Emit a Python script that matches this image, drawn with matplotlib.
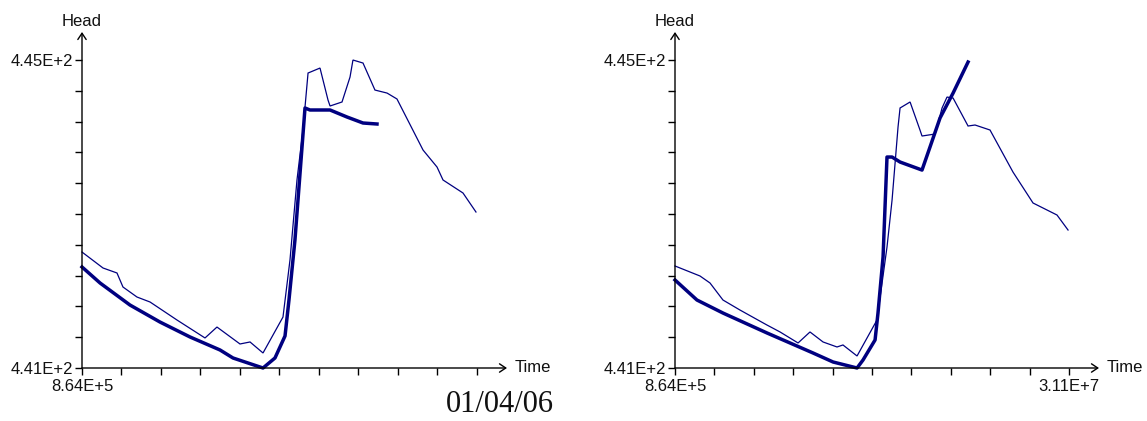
import matplotlib
matplotlib.use("Agg")
import matplotlib.pyplot as plt
from matplotlib.patches import Rectangle
from matplotlib.ticker import FixedLocator, FuncFormatter

SECONDS_PER_DAY = 86400
LINE_COLOR = "#000080"
FONT = ["Liberation Sans", "DejaVu Sans"]

# ---- Left model: observed (thin) and simulated (thick) head, time in days ----
left_obs_days = [10.0, 28.6, 41.0, 46.3, 58.7, 70.3, 94.2, 119.0, 129.6, 150.0,
                 158.9, 170.4, 188.1, 194.3, 200.5, 205.8, 210.3, 220.9, 228.0,
                 229.8, 240.4, 247.5, 250.1, 259.0, 269.6, 280.3, 289.1, 312.2,
                 324.6, 329.9, 347.6, 359.1]
left_obs_head = [442.506, 442.299, 442.234, 442.052, 441.922, 441.857, 441.623,
                 441.390, 441.532, 441.312, 441.338, 441.195, 441.662, 442.403,
                 443.442, 444.091, 444.831, 444.896, 444.480, 444.403, 444.455,
                 444.779, 445.000, 444.961, 444.610, 444.571, 444.494, 443.831,
                 443.610, 443.442, 443.273, 443.026]

left_sim_days = [10.0, 26.0, 52.5, 79.1, 105.7, 132.3, 143.8, 170.4, 181.0,
                 189.9, 193.4, 198.7, 207.6, 212.0, 229.8, 244.8, 259.0, 271.4]
left_sim_head = [442.312, 442.104, 441.818, 441.597, 441.403, 441.234, 441.130,
                 441.000, 441.130, 441.416, 441.883, 442.662, 444.377, 444.351,
                 444.351, 444.260, 444.182, 444.169]

# ---- Right model ----
right_obs_days = [10.0, 32.2, 41.1, 52.6, 67.7, 91.7, 103.3, 119.3, 129.9, 141.5,
                  153.9, 159.2, 171.7, 189.4, 198.3, 202.8, 208.1, 209.9, 218.8,
                  227.6, 229.4, 241.0, 247.2, 251.6, 257.0, 270.3, 276.5, 289.8,
                  310.2, 328.0, 349.3, 359.1]
right_obs_head = [442.325, 442.195, 442.104, 441.883, 441.753, 441.558, 441.468,
                  441.325, 441.468, 441.338, 441.273, 441.299, 441.156, 441.623,
                  442.571, 443.182, 444.130, 444.377, 444.455, 444.091, 444.013,
                  444.039, 444.377, 444.519, 444.506, 444.143, 444.156, 444.091,
                  443.545, 443.143, 442.987, 442.792]

right_sim_days = [10.0, 29.5, 52.6, 91.7, 132.6, 150.4, 171.7, 177.0, 187.7,
                  190.3, 194.8, 198.3, 202.8, 209.9, 229.4, 236.5, 245.4, 257.0,
                  270.3]
right_sim_head = [442.143, 441.883, 441.714, 441.455, 441.195, 441.078, 441.000,
                  441.104, 441.364, 441.714, 442.442, 443.740, 443.740, 443.675,
                  443.571, 443.870, 444.247, 444.571, 444.974]

# ---- Axis ticks and labels ----
x_tick_days = [10, 45, 80, 115, 150, 185, 220, 255, 290, 325, 360]
y_ticks = [441.0, 441.4, 441.8, 442.2, 442.6, 443.0, 443.4, 443.8, 444.2, 444.6, 445.0]
x_first_label = "8.64E+5"
x_last_label = "3.11E+7"
y_first_label = "4.41E+2"
y_last_label = "4.45E+2"
x_title = "Time"
y_title = "Head"
date_text = "01/04/06"

W, H = 1147, 421
fig = plt.figure(figsize=(W / 100, H / 100), dpi=100)
fig.patch.set_facecolor("white")

x_max_days = 386.6
y_max = 445.364


def to_seconds(days):
    return [d * SECONDS_PER_DAY for d in days]


def make_panel(left_px, right_px, obs_d, obs_h, sim_d, sim_h, last_x_label):
    bottom_px, top_px = 368, 32
    ax = fig.add_axes([left_px / W, (H - bottom_px) / H,
                       (right_px - left_px) / W, (bottom_px - top_px) / H])
    ax.set_xlim(10 * SECONDS_PER_DAY, x_max_days * SECONDS_PER_DAY)
    ax.set_ylim(441.0, y_max)
    for s in ax.spines.values():
        s.set_visible(False)
    ax.patch.set_alpha(0)

    ax.plot(to_seconds(obs_d), obs_h, color=LINE_COLOR, lw=0.9,
            solid_joinstyle="miter", clip_on=False)
    ax.plot(to_seconds(sim_d), sim_h, color=LINE_COLOR, lw=2.5,
            solid_joinstyle="round", clip_on=False)

    # axis lines with open arrow heads
    arrow = dict(arrowstyle="->,head_length=0.45,head_width=0.3", lw=1.0,
                 color="black", shrinkA=0, shrinkB=0)
    ax.annotate("", xy=(1, 0), xytext=(0, 0), xycoords="axes fraction",
                arrowprops=arrow, annotation_clip=False)
    ax.annotate("", xy=(0, 1), xytext=(0, 0), xycoords="axes fraction",
                arrowprops=arrow, annotation_clip=False)

    xt = to_seconds(x_tick_days)
    ax.xaxis.set_major_locator(FixedLocator(xt))
    ax.yaxis.set_major_locator(FixedLocator(y_ticks))
    ax.xaxis.set_major_formatter(FuncFormatter(
        lambda v, p: x_first_label if p == 0 else (last_x_label if p == len(xt) - 1 else "")))
    ax.yaxis.set_major_formatter(FuncFormatter(
        lambda v, p: y_first_label if p == 0 else (y_last_label if p == len(y_ticks) - 1 else "")))
    ax.tick_params(axis="both", direction="out", length=5.2, width=1.0,
                   color="black", labelsize=12, labelcolor="#111111")
    ax.tick_params(axis="x", pad=2.5)
    ax.tick_params(axis="y", pad=1.5)
    for lab in ax.get_xticklabels() + ax.get_yticklabels():
        lab.set_family(FONT)

    fig.text(left_px / W, 1 - 21 / H, y_title, ha="center", va="center",
             fontsize=12, family=FONT, color="#111111")
    fig.text((right_px + 8) / W, 1 - 368 / H, x_title, ha="left", va="center",
             fontsize=12, family=FONT, color="#111111")
    return ax


# the left panel's end label sits under the date block, so it is left blank
make_panel(82, 507, left_obs_days, left_obs_head, left_sim_days, left_sim_head, "")
make_panel(675, 1099, right_obs_days, right_obs_head, right_sim_days, right_sim_head,
           x_last_label)

# date stamp on a white block at the foot of the page
fig.patches.append(Rectangle((420 / W, 0), (587 - 420) / W, (H - 378) / H,
                             transform=fig.transFigure, facecolor="white",
                             edgecolor="none", zorder=5))
fig.text(500 / W, 1 - 405 / H, date_text, ha="center", va="center",
         fontsize=22, family=["Liberation Serif", "DejaVu Serif"],
         color="#111111", zorder=6)

fig.savefig("out.png", dpi=100, facecolor="white")
